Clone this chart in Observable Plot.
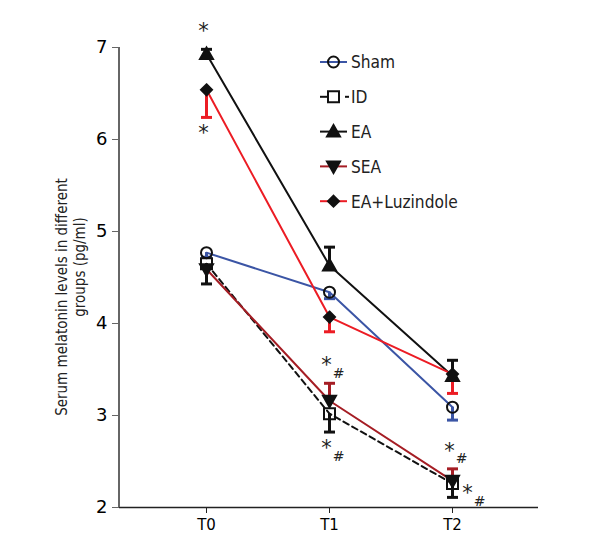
<!DOCTYPE html>
<html>
<head>
<meta charset="utf-8">
<script src="https://cdn.jsdelivr.net/npm/d3@7"></script>
<script src="https://cdn.jsdelivr.net/npm/@observablehq/plot@0.6"></script>
<style>
  html, body { margin: 0; padding: 0; background: #fff; }
  #wrap { position: relative; width: 600px; height: 560px; font-family: "DejaVu Sans", sans-serif; }
  #wrap svg { position: absolute; left: 0; top: 0; }
</style>
</head>
<body>
<div id="wrap"></div>
<script>
// ---- data ----
const times = ["T0", "T1", "T2"];
const yTicks = [2, 3, 4, 5, 6, 7];
const groupNames = ["Sham", "ID", "EA", "SEA", "EA+Luzindole"];
const shamValues = [4.77, 4.34, 3.09];
const shamErrors = [0.05, 0.07, 0.14];   // drawn downward
const idValues = [4.65, 3.02, 2.26];
const idErrors = [0.22, 0.20, 0.15];     // drawn downward
const eaValues = [6.93, 4.63, 3.43];
const eaErrors = [0.05, 0.20, 0.17];     // drawn upward
const seaValues = [4.59, 3.16, 2.29];
const seaErrors = [0.03, 0.19, 0.13];    // drawn upward
const luzValues = [6.54, 4.07, 3.45];
const luzErrors = [0.30, 0.16, 0.21];    // drawn downward
const yLabelLines = ["Serum melatonin levels in different", "groups (pg/ml)"];
// significance marks: [group, time, text, placement]
const annotations = [
  ["EA", "T0", "*", "above"],
  ["EA+Luzindole", "T0", "*", "below"],
  ["SEA", "T1", "*#", "above"],
  ["ID", "T1", "*#", "below"],
  ["SEA", "T2", "*#", "above"],
  ["ID", "T2", "*#", "right"]
];

// ---- symbols ----
const cap = {draw(ctx) { ctx.moveTo(-5.5, 0); ctx.lineTo(5.5, 0); }};
const circ = {draw(ctx) { ctx.moveTo(5.5, 0); ctx.arc(0, 0, 5.5, 0, 2 * Math.PI); }};
const sq = {draw(ctx) { ctx.rect(-5.5, -5.5, 11, 11); }};
const triUp = {draw(ctx) { ctx.moveTo(0, -6.5); ctx.lineTo(6.5, 5); ctx.lineTo(-6.5, 5); ctx.closePath(); }};
const triDown = {draw(ctx) { ctx.moveTo(0, 6.5); ctx.lineTo(6.5, -5); ctx.lineTo(-6.5, -5); ctx.closePath(); }};
const diam = {draw(ctx) { ctx.moveTo(0, -5.5); ctx.lineTo(5.5, 0); ctx.lineTo(0, 5.5); ctx.lineTo(-5.5, 0); ctx.closePath(); }};

const styles = {
  "Sham": {values: shamValues, errors: shamErrors, dir: -1, color: "#3b55a5", err: "#3b55a5", dash: null, symbol: circ, fill: "none"},
  "ID": {values: idValues, errors: idErrors, dir: -1, color: "#111", err: "#111", dash: "6,4", symbol: sq, fill: "none"},
  "EA": {values: eaValues, errors: eaErrors, dir: 1, color: "#111", err: "#111", dash: null, symbol: triUp, fill: "#111"},
  "SEA": {values: seaValues, errors: seaErrors, dir: 1, color: "#a51d24", err: "#a51d24", dash: null, symbol: triDown, fill: "#111"},
  "EA+Luzindole": {values: luzValues, errors: luzErrors, dir: -1, color: "#ec1c24", err: "#ec1c24", dash: null, symbol: diam, fill: "#111"}
};

const rows = [];
for (const g of groupNames) {
  const s = styles[g];
  times.forEach((t, i) => rows.push({group: g, t, v: s.values[i], end: s.values[i] + s.dir * s.errors[i]}));
}

const marks = [];
for (const g of groupNames) {
  const s = styles[g];
  marks.push(Plot.line(rows.filter(d => d.group === g), {x: "t", y: "v", stroke: s.color, strokeWidth: 2, strokeDasharray: s.dash}));
}
for (const g of groupNames) {
  const r = rows.filter(d => d.group === g);
  marks.push(Plot.ruleX(r, {x: "t", y1: "v", y2: "end", stroke: styles[g].err, strokeWidth: 3}));
  marks.push(Plot.dot(r, {x: "t", y: "end", symbol: cap, r: 5, stroke: styles[g].err, strokeWidth: 3}));
}
for (const g of groupNames) {
  const s = styles[g];
  marks.push(Plot.dot(rows.filter(d => d.group === g), {x: "t", y: "v", symbol: s.symbol, r: 5, fill: s.fill, stroke: "#111", strokeWidth: 2}));
}

// annotations anchored to the error-bar end or the marker
const annRows = annotations.map(([g, t, text, place]) => {
  const row = rows.find(d => d.group === g && d.t === t);
  const top = Math.max(row.v, row.end), bot = Math.min(row.v, row.end);
  return {t, text, place, y: place === "above" ? top : place === "below" ? bot : row.v};
});
const off = {above: [-3, -22], below: [-3, 12], right: [15, 6]};
for (const p of ["above", "below", "right"]) {
  const sub = annRows.filter(d => d.place === p);
  marks.push(Plot.text(sub, {x: "t", y: "y", text: () => "*", dx: off[p][0], dy: off[p][1] + 4, fontSize: 21, fill: "#222"}));
  marks.push(Plot.text(sub.filter(d => d.text.includes("#")), {x: "t", y: "y", text: () => "#", dx: off[p][0] + 12, dy: off[p][1] + 12, fontSize: 14, fill: "#222"}));
}

const plot = Plot.plot({
  width: 600,
  height: 560,
  marginLeft: 119,
  marginRight: 62,
  marginTop: 47,
  marginBottom: 53,
  style: {fontFamily: '"DejaVu Sans", sans-serif', background: "white"},
  x: {type: "point", domain: times, padding: 0.7, axis: null},
  y: {domain: [2, 7], axis: null},
  marks: [
    Plot.ruleY([2], {stroke: "#222", strokeWidth: 1.5}),
    Plot.axisX({tickSize: 6, tickPadding: 6, fontSize: 15, stroke: "#222", label: null}),
    Plot.axisY({ticks: yTicks, tickFormat: "d", tickSize: 7, tickPadding: 5, fontSize: 18, stroke: "#666", label: null}),
    ...marks
  ]
});
document.getElementById("wrap").appendChild(plot);

// overlay: y-axis line (from the plot's own scales), y label and legend
const ys = plot.scale("y"), xs = plot.scale("x");
const ov = d3.select("#wrap").append("svg").attr("width", 600).attr("height", 560).style("pointer-events", "none");
ov.append("line").attr("x1", xs.range[0]).attr("x2", xs.range[0])
  .attr("y1", ys.apply(7)).attr("y2", ys.apply(2)).attr("stroke", "#666").attr("stroke-width", 2);

ov.append("text").attr("transform", "translate(62,297) rotate(-90) scale(0.9,1)").attr("text-anchor", "middle").attr("dominant-baseline", "central")
  .style("font-size", "15px").attr("fill", "#222").text(yLabelLines[0]);
ov.append("text").attr("transform", "translate(80,267) rotate(-90) scale(0.9,1)").attr("text-anchor", "middle").attr("dominant-baseline", "central")
  .style("font-size", "15px").attr("fill", "#222").text(yLabelLines[1]);

const lg = ov.append("g").attr("transform", "translate(320,62)");
groupNames.forEach((g, i) => {
  const s = styles[g];
  const row = lg.append("g").attr("transform", `translate(0,${i * 34.8})`);
  if (g === "ID") {
    row.append("line").attr("x1", 0).attr("x2", 8).attr("stroke", s.color).attr("stroke-width", 2);
    row.append("line").attr("x1", 25).attr("x2", 29).attr("stroke", s.color).attr("stroke-width", 2);
  } else {
    row.append("line").attr("x1", 0).attr("x2", 27).attr("stroke", s.color).attr("stroke-width", 2);
  }
  row.append("path").attr("transform", "translate(13.5,0)").attr("d", d3.symbol(s.symbol)()).attr("fill", s.fill).attr("stroke", "#111").attr("stroke-width", 2);
  row.append("text").attr("transform", "translate(31,0) scale(0.86,1)").attr("dominant-baseline", "central").style("font-size", "18px").attr("fill", "#222").text(g);
});
</script>
</body>
</html>
